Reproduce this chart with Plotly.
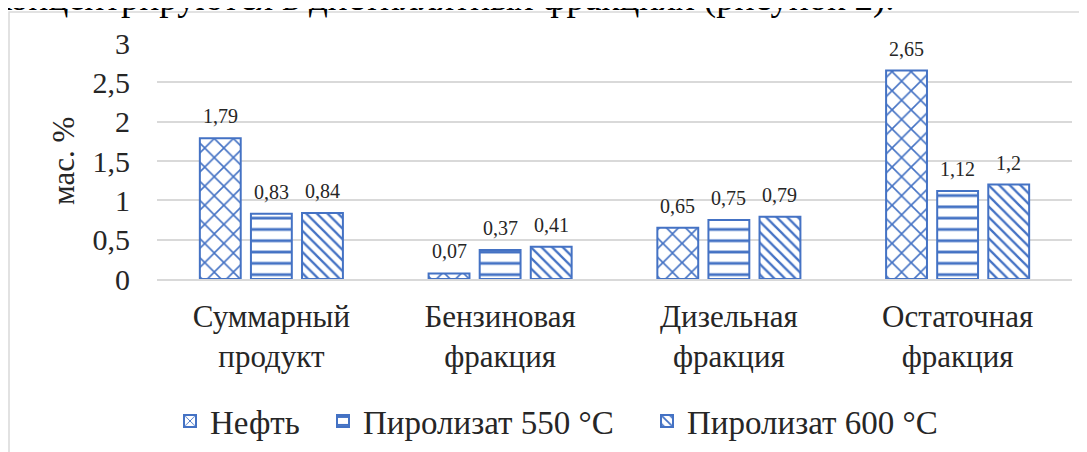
import plotly.graph_objects as go

categories = ["Суммарный<br>продукт", "Бензиновая<br>фракция", "Дизельная<br>фракция", "Остаточная<br>фракция"]
series_names = ["Нефть", "Пиролизат 550 °C", "Пиролизат 600 °C"]
neft = [1.79, 0.07, 0.65, 2.65]
piro550 = [0.83, 0.37, 0.75, 1.12]
piro600 = [0.84, 0.41, 0.79, 1.2]
y_ticks = [0, 0.5, 1, 1.5, 2, 2.5, 3]
y_ticktext = ["0", "0,5", "1", "1,5", "2", "2,5", "3"]

BLUE = "#4472C4"
TXT = "#262626"
FONT = "Liberation Serif, Times New Roman, DejaVu Serif, serif"
OFF = 8  # page body margin
W, H = 1087 - OFF, 452 - OFF
L, R, T, B = 157 - OFF, 1072 - OFF, 43 - OFF, 279 - OFF  # plot area in figure px

def px_x(x):
    return (x - OFF - L) / (R - L)

def px_y(y):
    return (B - (y - OFF)) / (B - T)

patterns = [
    dict(shape="x", size=13.5, solidity=0.22, fgcolor=BLUE, bgcolor="white", fillmode="replace"),
    dict(shape="-", size=11.3, solidity=0.25, fgcolor=BLUE, bgcolor="white", fillmode="replace"),
    dict(shape="\\", size=7.5, solidity=0.3, fgcolor=BLUE, bgcolor="white", fillmode="replace"),
]
legend_ids = ["legend", "legend2", "legend3"]
legend_left_px = [170, 323, 647]

fig = go.Figure()
all_series = [neft, piro550, piro600]
for name, vals, pat, lid in zip(series_names, all_series, patterns, legend_ids):
    fig.add_trace(go.Bar(
        x=categories, y=vals, name=name, legend=lid,
        marker=dict(color="white", pattern=pat, line=dict(color=BLUE, width=2)),
        hoverinfo="skip",
    ))

# data labels
slot = (R - L) / len(categories) * (1 - 0.33) / 3
annotations = []
for i, vals in enumerate(all_series):
    for cat, v in zip(categories, vals):
        annotations.append(dict(
            x=cat, y=v, xref="x", yref="y", text=f"{v:g}".replace(".", ","),
            showarrow=False, xanchor="center", yanchor="bottom",
            xshift=(i - 1) * slot, yshift=9,
            font=dict(family=FONT, size=20, color=TXT),
        ))

# y-axis title
annotations.append(dict(
    x=px_x(63), y=px_y(161), xref="paper", yref="paper", text="мас. %",
    textangle=-90, showarrow=False, xanchor="center", yanchor="middle",
    font=dict(family=FONT, size=31, color=TXT),
))

# clipped document text at very top
annotations.append(dict(
    x=px_x(896), y=px_y(21), xref="paper", yref="paper",
    text="концентрируются в дистиллятных фракциях (рисунок 2).",
    showarrow=False, xanchor="right", yanchor="bottom",
    font=dict(family=FONT, size=37, color="#000000"),
))

legend_common = dict(
    orientation="h", yanchor="middle", xanchor="left",
    font=dict(family=FONT, size=33, color=TXT),
    bgcolor="rgba(0,0,0,0)", borderwidth=0,
)
legends = {}
for lid, lx in zip(legend_ids, legend_left_px):
    legends[lid] = dict(legend_common, x=px_x(lx), y=px_y(421))

fig.update_layout(
    width=W, height=H,
    margin=dict(l=L, r=W - R, t=T, b=H - B, pad=0, autoexpand=False),
    paper_bgcolor="white", plot_bgcolor="white",
    barmode="group", bargap=0.33, bargroupgap=0.2,
    font=dict(family=FONT, color=TXT),
    showlegend=True,
    annotations=annotations,
    shapes=[dict(
        type="rect", xref="paper", yref="paper",
        x0=px_x(9), x1=px_x(1100), y0=px_y(12), y1=px_y(480),
        line=dict(color="#d9d9d9", width=1.5), fillcolor="rgba(0,0,0,0)", layer="below",
    )],
    **legends,
)

fig.update_yaxes(
    range=[0, 3], tickvals=y_ticks, ticktext=y_ticktext,
    showgrid=True, gridcolor="#d9d9d9", gridwidth=1.5,
    zeroline=False, showline=False, ticks="",
    ticklabelstandoff=26,
    tickfont=dict(family=FONT, size=30, color=TXT),
)
fig.update_xaxes(
    showline=True, linecolor="#d9d9d9", linewidth=1.5,
    ticks="", tickfont=dict(family=FONT, size=31, color=TXT),
    ticklabelstandoff=9,
)

fig.write_html("out.html")
